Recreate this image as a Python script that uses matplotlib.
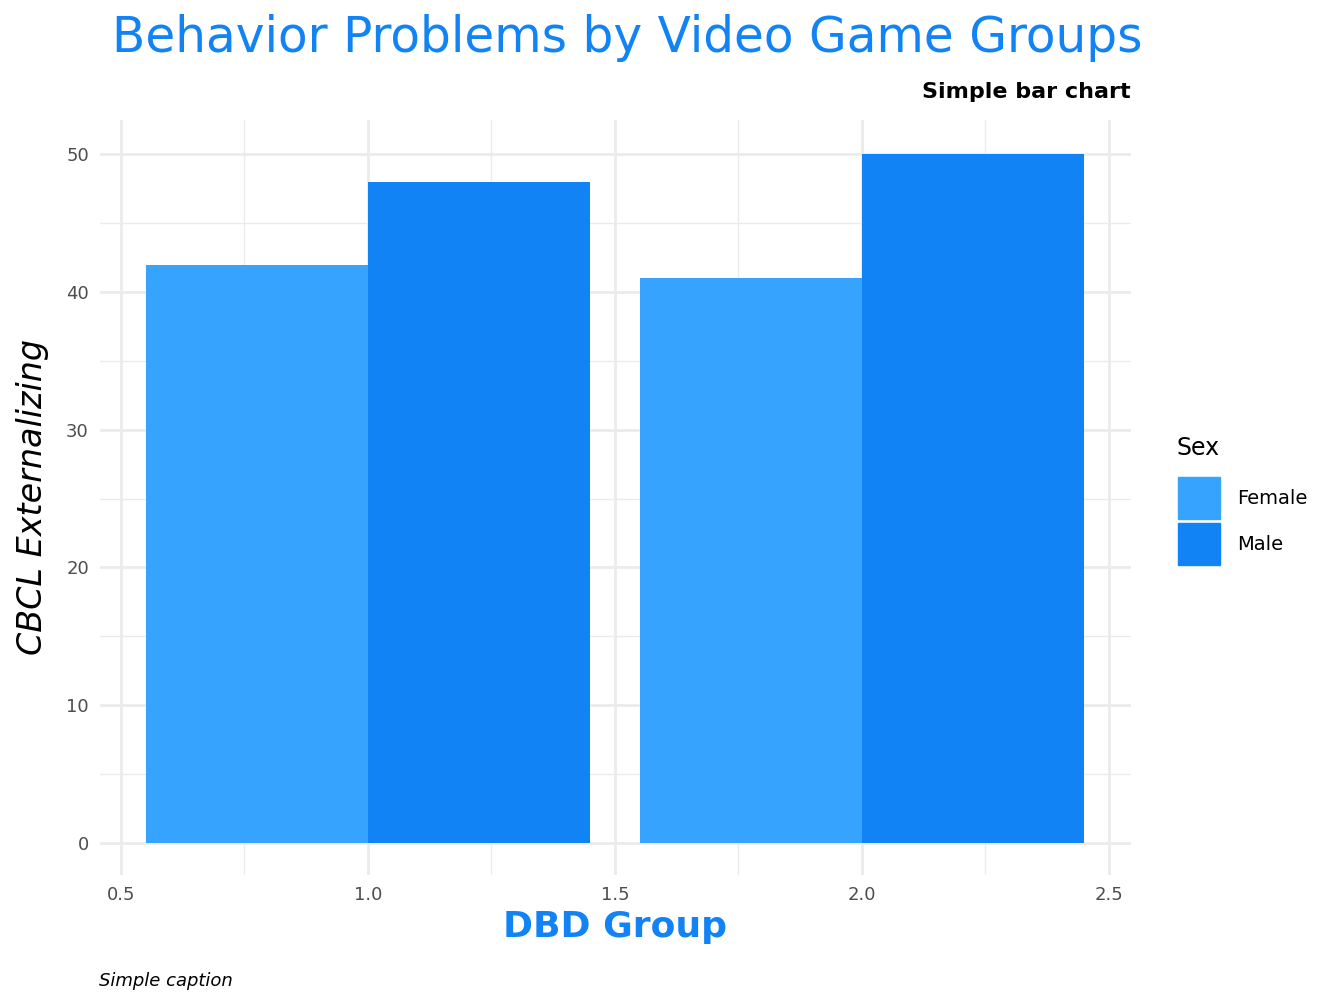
import matplotlib.pyplot as plt
from matplotlib.patches import Rectangle

groups = [1.0, 2.0]
sexes = ["Female", "Male"]
female_vals = [42, 41]
male_vals = [48, 50]
colors = {"Female": "#36A3FF", "Male": "#1283F5"}
xticks = [0.5, 1.0, 1.5, 2.0, 2.5]
yticks = [0, 10, 20, 30, 40, 50]

fig = plt.figure(figsize=(13.44, 10.08), dpi=100)
ax = fig.add_axes([0.0744, 0.132, 0.7671, 0.749])

w = 0.45
ax.bar([g - w / 2 for g in groups], female_vals, width=w, color=colors["Female"], zorder=3)
ax.bar([g + w / 2 for g in groups], male_vals, width=w, color=colors["Male"], zorder=3)

ax.set_xlim(0.4575, 2.5445)
ax.set_ylim(-2.33, 52.5)
ax.set_xticks(xticks)
ax.set_xticklabels([f"{t:.1f}" for t in xticks])
ax.set_yticks(yticks)
ax.set_xticks([0.75, 1.25, 1.75, 2.25], minor=True)
ax.set_yticks([5, 15, 25, 35, 45], minor=True)
ax.grid(True, which="major", color="#EBEBEB", lw=2, zorder=0)
ax.grid(True, which="minor", color="#EBEBEB", lw=1, zorder=0)
for s in ax.spines.values():
    s.set_visible(False)
ax.tick_params(which="both", length=0, labelsize=13, colors="#4D4D4D", pad=8)

ax.set_xlabel("DBD Group", fontsize=26, fontweight="bold", color="#1283F5", labelpad=4)
ax.set_ylabel("CBCL Externalizing", fontsize=24, style="italic", labelpad=12)

fig.text(0.4665, 0.962, "Behavior Problems by Video Game Groups", ha="center", va="center",
         fontsize=35, color="#1283F5")
fig.text(0.8415, 0.909, "Simple bar chart", ha="right", va="center", fontsize=16, fontweight="bold")
fig.text(0.074, 0.027, "Simple caption", ha="left", va="center", fontsize=13, style="italic")

# legend
fig.text(1177 / 1344, 1 - 448 / 1008, "Sex", fontsize=17, va="center")
for i, s in enumerate(sexes):
    y = 1 - (498 + 46 * i) / 1008
    fig.patches.append(Rectangle((1178 / 1344, y - 21 / 1008), 42 / 1344, 42 / 1008,
                                 transform=fig.transFigure, color=colors[s]))
    fig.text(1237 / 1344, y, s, fontsize=14, va="center")

fig.savefig("out.png")
